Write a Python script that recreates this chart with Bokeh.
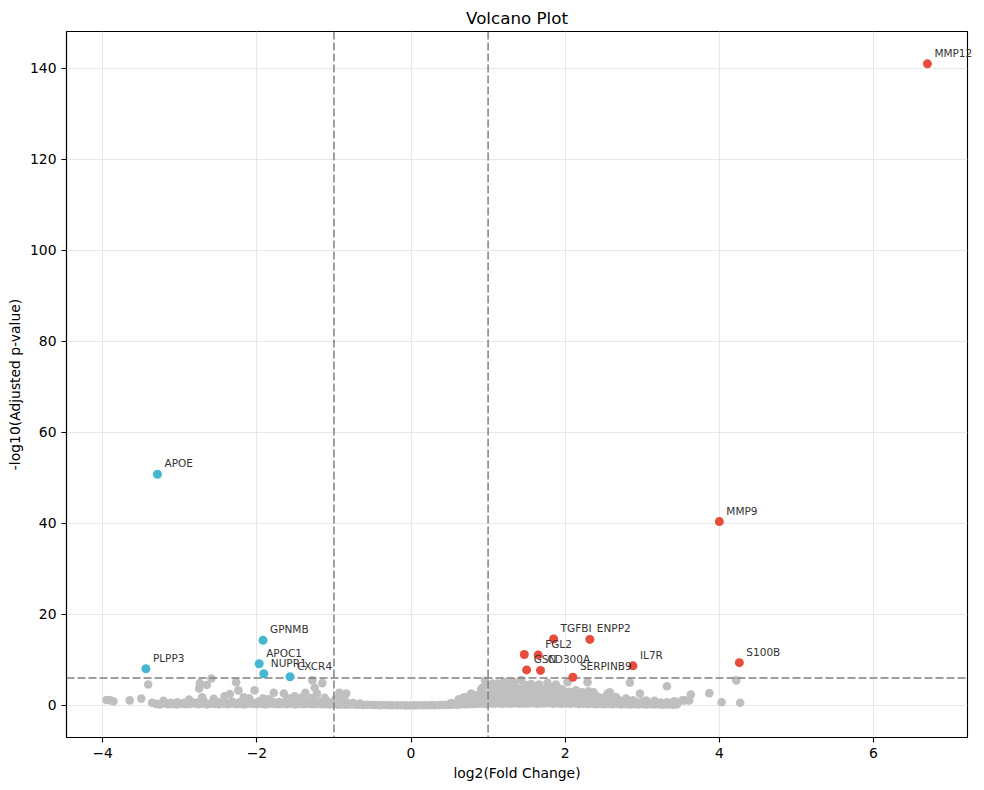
from bokeh.plotting import figure
from bokeh.models import Span, FixedTicker, ColumnDataSource, Range1d
from bokeh.core.properties import value
from bokeh.embed import file_html
from bokeh.resources import INLINE

FONT = "DejaVu Sans"

# ---- significant genes (log2 fold change, -log10 adjusted p) ----
up_genes = ["MMP12", "MMP9", "S100B", "IL7R", "ENPP2", "TGFBI", "FGL2", "", "GSN", "CD300A", "SERPINB9"]
up_lfc = [6.70, 4.00, 4.26, 2.88, 2.32, 1.85, 1.65, 1.47, 1.50, 1.68, 2.10]
up_nlp = [141.0, 40.4, 9.4, 8.7, 14.5, 14.6, 11.1, 11.2, 7.8, 7.7, 6.2]

down_genes = ["APOE", "GPNMB", "PLPP3", "APOC1", "NUPR1", "CXCR4"]
down_lfc = [-3.29, -1.92, -3.44, -1.97, -1.91, -1.57]
down_nlp = [50.8, 14.3, 8.05, 9.15, 6.95, 6.3]

# ---- non-significant genes, (log2FC, -log10 padj) ----
grey_core = [
    (-3.31, 0.35), (-3.26, 0.22), (-3.20, 0.41), (-3.15, 0.28), (-3.09, 0.33), (-3.04, 0.19), (-2.98, 0.38), (-2.93, 0.25),
    (-2.87, 0.31), (-2.82, 0.44), (-2.76, 0.27), (-2.71, 0.36), (-2.65, 0.21), (-2.60, 0.40), (-2.55, 0.30), (-2.49, 0.24),
    (-2.44, 0.37), (-2.38, 0.29), (-2.33, 0.42), (-2.27, 0.26), (-2.22, 0.34), (-2.16, 0.23), (-2.11, 0.39), (-2.05, 0.31),
    (-2.00, 0.27), (-1.94, 0.35), (-1.89, 0.22), (-1.83, 0.38), (-1.78, 0.30), (-1.72, 0.25), (-1.67, 0.33), (-1.61, 0.28),
    (-1.56, 0.36), (-1.50, 0.21), (-1.45, 0.32), (-1.39, 0.27), (-1.34, 0.35), (-1.28, 0.24), (-1.23, 0.31), (-1.17, 0.26),
    (-1.12, 0.29), (-1.06, 0.22), (-1.01, 0.27), (-0.95, 0.18), (-0.90, 0.23), (-0.84, 0.16), (-0.79, 0.20), (-0.73, 0.14),
    (-0.68, 0.17), (-0.62, 0.11), (-0.57, 0.13), (-0.51, 0.09), (-0.46, 0.10), (-0.40, 0.06), (-0.35, 0.08), (-0.29, 0.04),
    (-0.24, 0.05), (-0.18, 0.03), (-0.13, 0.02), (-0.07, 0.01), (-0.02, 0.00), (0.04, 0.01), (0.09, 0.02), (0.15, 0.03),
    (0.20, 0.04), (0.26, 0.06), (0.31, 0.05), (0.37, 0.08), (0.42, 0.10), (0.48, 0.12), (0.53, 0.15), (0.59, 0.18),
    (0.64, 0.21), (0.70, 0.25), (0.75, 0.28), (0.81, 0.33), (0.86, 0.30), (0.92, 0.37), (0.97, 0.34), (1.03, 0.41),
    (1.08, 0.36), (1.14, 0.43), (1.19, 0.38), (1.25, 0.45), (1.30, 0.40), (1.36, 0.47), (1.41, 0.39), (1.47, 0.44),
    (1.52, 0.42), (1.58, 0.48), (1.63, 0.37), (1.69, 0.45), (1.74, 0.41), (1.80, 0.46), (1.85, 0.36), (1.91, 0.43),
    (1.96, 0.39), (2.02, 0.44), (2.07, 0.35), (2.13, 0.41), (2.18, 0.33), (2.24, 0.38), (2.29, 0.31), (2.35, 0.36),
    (2.40, 0.29), (2.46, 0.34), (2.51, 0.27), (2.57, 0.32), (2.62, 0.25), (2.68, 0.30), (2.73, 0.23), (2.79, 0.28),
    (2.84, 0.21), (2.90, 0.26), (2.95, 0.22), (3.01, 0.27), (3.06, 0.20), (3.12, 0.24), (3.17, 0.19), (3.23, 0.23),
    (3.28, 0.18), (3.34, 0.22), (3.40, 0.17), (3.45, 0.21),
]

grey_shoulders = [
    (-3.22, 0.62), (-3.12, 0.55), (-3.03, 0.71), (-2.94, 0.58), (-2.85, 0.78), (-2.77, 0.64), (-2.68, 0.82), (-2.58, 0.60),
    (-2.50, 0.76), (-2.41, 0.68), (-2.32, 0.85), (-2.23, 0.63), (-2.14, 0.80), (-2.06, 0.70), (-1.97, 0.88), (-1.88, 0.66),
    (-1.80, 0.84), (-1.71, 0.72), (-1.62, 0.90), (-1.53, 0.76), (-1.44, 0.95), (-1.35, 0.82), (-1.27, 1.05), (-1.18, 0.86),
    (-1.09, 0.94), (-1.00, 0.78), (-0.92, 0.70), (-0.83, 0.61), (-0.75, 0.52), (-0.66, 0.42),
    (0.52, 0.55), (0.60, 0.70), (0.68, 0.88), (0.76, 1.05), (0.84, 1.22), (0.92, 1.41), (1.00, 1.35), (1.08, 1.52),
    (1.16, 1.44), (1.24, 1.58), (1.32, 1.47), (1.40, 1.62), (1.48, 1.51), (1.56, 1.66), (1.64, 1.49), (1.72, 1.60),
    (1.80, 1.45), (1.88, 1.56), (1.96, 1.41), (2.04, 1.50), (2.12, 1.33), (2.20, 1.42), (2.28, 1.25), (2.36, 1.31),
    (2.44, 1.12), (2.52, 1.00), (2.60, 0.92), (2.68, 0.96), (2.76, 0.84), (2.84, 0.88), (2.92, 0.76), (3.00, 0.80),
    (3.08, 0.70), (3.16, 0.74), (3.24, 0.62), (3.32, 0.66),
]

grey_hump = [
    (-2.88, 1.30), (-2.56, 1.45), (-2.10, 1.55), (-1.85, 1.35), (-1.58, 1.50), (-1.42, 1.75), (-1.30, 1.60), (-1.12, 1.70),
    (-0.98, 1.45), (-0.88, 1.25),
    (0.62, 1.35), (0.72, 1.75), (0.82, 2.20), (0.90, 2.65), (0.98, 2.45), (1.06, 2.85), (1.14, 2.60), (1.22, 2.95),
    (1.30, 2.70), (1.38, 3.05), (1.46, 2.80), (1.54, 3.10), (1.62, 2.75), (1.70, 2.95), (1.78, 2.65), (1.86, 2.85),
    (1.94, 2.55), (2.02, 2.75), (2.10, 2.40), (2.18, 2.60), (2.26, 2.20), (2.34, 2.35), (2.42, 1.95), (2.50, 1.70),
    (2.60, 1.55), (2.66, 1.85),
    (0.93, 3.90), (1.02, 4.25), (1.10, 3.70), (1.18, 4.40), (1.26, 3.85), (1.34, 4.30), (1.42, 3.75), (1.50, 4.20),
    (1.58, 3.60), (1.66, 4.05), (1.74, 3.55), (1.82, 4.00), (1.90, 3.45), (1.98, 3.20), (2.06, 3.00), (2.14, 3.30),
    (2.22, 2.90), (2.30, 3.10), (1.06, 4.80), (1.28, 4.95), (1.56, 4.70), (1.88, 4.60),
]

grey_scatter = [
    (-3.95, 1.2), (-3.90, 1.1), (-3.86, 0.9), (-3.65, 1.1), (-3.50, 1.5), (-3.41, 4.6), (-3.36, 0.6), (-3.21, 1.0),
    (-2.75, 3.7), (-2.74, 4.9), (-2.65, 4.5), (-2.59, 5.9), (-2.71, 1.8), (-2.42, 2.0), (-2.35, 2.5), (-2.27, 5.1),
    (-2.24, 3.3), (-2.17, 1.8), (-2.03, 3.3), (-1.92, 1.5), (-1.78, 2.8), (-1.65, 2.6), (-1.51, 2.0), (-1.37, 2.8),
    (-1.28, 5.5), (-1.25, 3.9), (-1.15, 4.9), (-1.22, 2.6), (-0.93, 2.8), (-0.84, 2.6),
    (0.69, 1.8), (0.78, 2.6), (0.91, 3.6), (0.96, 5.4), (1.12, 4.8), (1.20, 5.2), (1.34, 5.1), (1.43, 5.6),
    (1.51, 4.5), (1.66, 4.6), (1.77, 5.0), (1.95, 3.6), (2.03, 5.1), (2.29, 5.1), (1.47, 2.6), (1.73, 3.3),
    (2.27, 2.6), (2.37, 2.9), (2.42, 1.8), (2.55, 2.6), (2.58, 2.9), (2.84, 5.0), (2.97, 2.6), (3.32, 4.2),
    (3.63, 2.4), (3.55, 1.1), (3.87, 2.7), (4.03, 0.7), (4.22, 5.5), (4.27, 0.6), (3.16, 1.0), (3.42, 0.9),
    (2.88, 1.1), (2.70, 1.1), (3.05, 1.1), (3.52, 1.1), (3.61, 1.1), (3.39, 0.7), (2.79, 1.5), (1.64, 1.8),
    (1.79, 2.2),
]

lfc_cutoff = 1.0
nlp_cutoff = 6.0

x_ticks = [-4, -2, 0, 2, 4, 6]
y_ticks = [0, 20, 40, 60, 80, 100, 120, 140]

grey_all = grey_core + grey_shoulders + grey_hump + grey_scatter
grey_src = ColumnDataSource(dict(x=[p[0] for p in grey_all], y=[p[1] for p in grey_all]))
up_src = ColumnDataSource(dict(x=up_lfc, y=up_nlp, gene=up_genes))
down_src = ColumnDataSource(dict(x=down_lfc, y=down_nlp, gene=down_genes))

p = figure(
    width=984, height=790,
    x_range=Range1d(-4.47, 7.22), y_range=Range1d(-7.05, 148.1),
    output_backend="svg", toolbar_location=None,
    min_border_left=66, min_border_right=17, min_border_top=31, min_border_bottom=53,
    title="Volcano Plot",
)
p.background_fill_color = "white"
p.border_fill_color = "white"
p.outline_line_color = "black"
p.outline_line_width = 1.1

p.title.text_font = FONT
p.title.text_font_size = "16.7px"
p.title.text_font_style = "normal"
p.title.align = "center"
p.title.text_color = "black"
p.title.standoff = 7

for ax in (p.xaxis[0], p.yaxis[0]):
    ax.axis_line_color = "black"
    ax.axis_line_width = 1.1
    ax.major_tick_line_color = "black"
    ax.major_tick_line_width = 1.1
    ax.major_tick_out = 5
    ax.major_tick_in = 0
    ax.minor_tick_line_color = None
    ax.major_label_text_font = FONT
    ax.major_label_text_font_size = "13.9px"
    ax.major_label_text_color = "black"
    ax.axis_label_text_font = FONT
    ax.axis_label_text_font_size = "13.9px"
    ax.axis_label_text_font_style = "normal"
    ax.axis_label_text_color = "black"
    ax.major_label_standoff = 5

p.xaxis.ticker = FixedTicker(ticks=x_ticks)
p.yaxis.ticker = FixedTicker(ticks=y_ticks)
p.xaxis.major_label_overrides = {t: str(t).replace("-", "\u2212") for t in x_ticks}
p.xaxis.axis_label = "log2(Fold Change)"
p.yaxis.axis_label = "-log10(Adjusted p-value)"
p.xaxis.axis_label_standoff = 4
p.yaxis.axis_label_standoff = 4

p.grid.grid_line_color = "#e7e7e7"
p.grid.grid_line_width = 1.1

# background genes
p.scatter("x", "y", source=grey_src, size=8.6, fill_color="#bfbfbf", line_color=None)

# significance thresholds
for loc, dim in ((-lfc_cutoff, "height"), (lfc_cutoff, "height"), (nlp_cutoff, "width")):
    p.add_layout(Span(location=loc, dimension=dim, line_color="#808080",
                      line_width=1.5, line_dash="8 3"))

# up / down regulated genes
r_up = p.scatter("x", "y", source=up_src, size=9, fill_color="#e74c3c", line_color=None)
r_dn = p.scatter("x", "y", source=down_src, size=9, fill_color="#45b7d1", line_color=None)
r_up.level = "overlay"
r_dn.level = "overlay"

for src in (up_src, down_src):
    t = p.text("x", "y", text="gene", source=src, x_offset=7, y_offset=-11,
               text_font=value(FONT), text_font_size="10.5px", text_color="#333333",
               text_align="left", text_baseline="alphabetic")
    t.level = "overlay"

open("out.html", "w").write(file_html(p, INLINE))
